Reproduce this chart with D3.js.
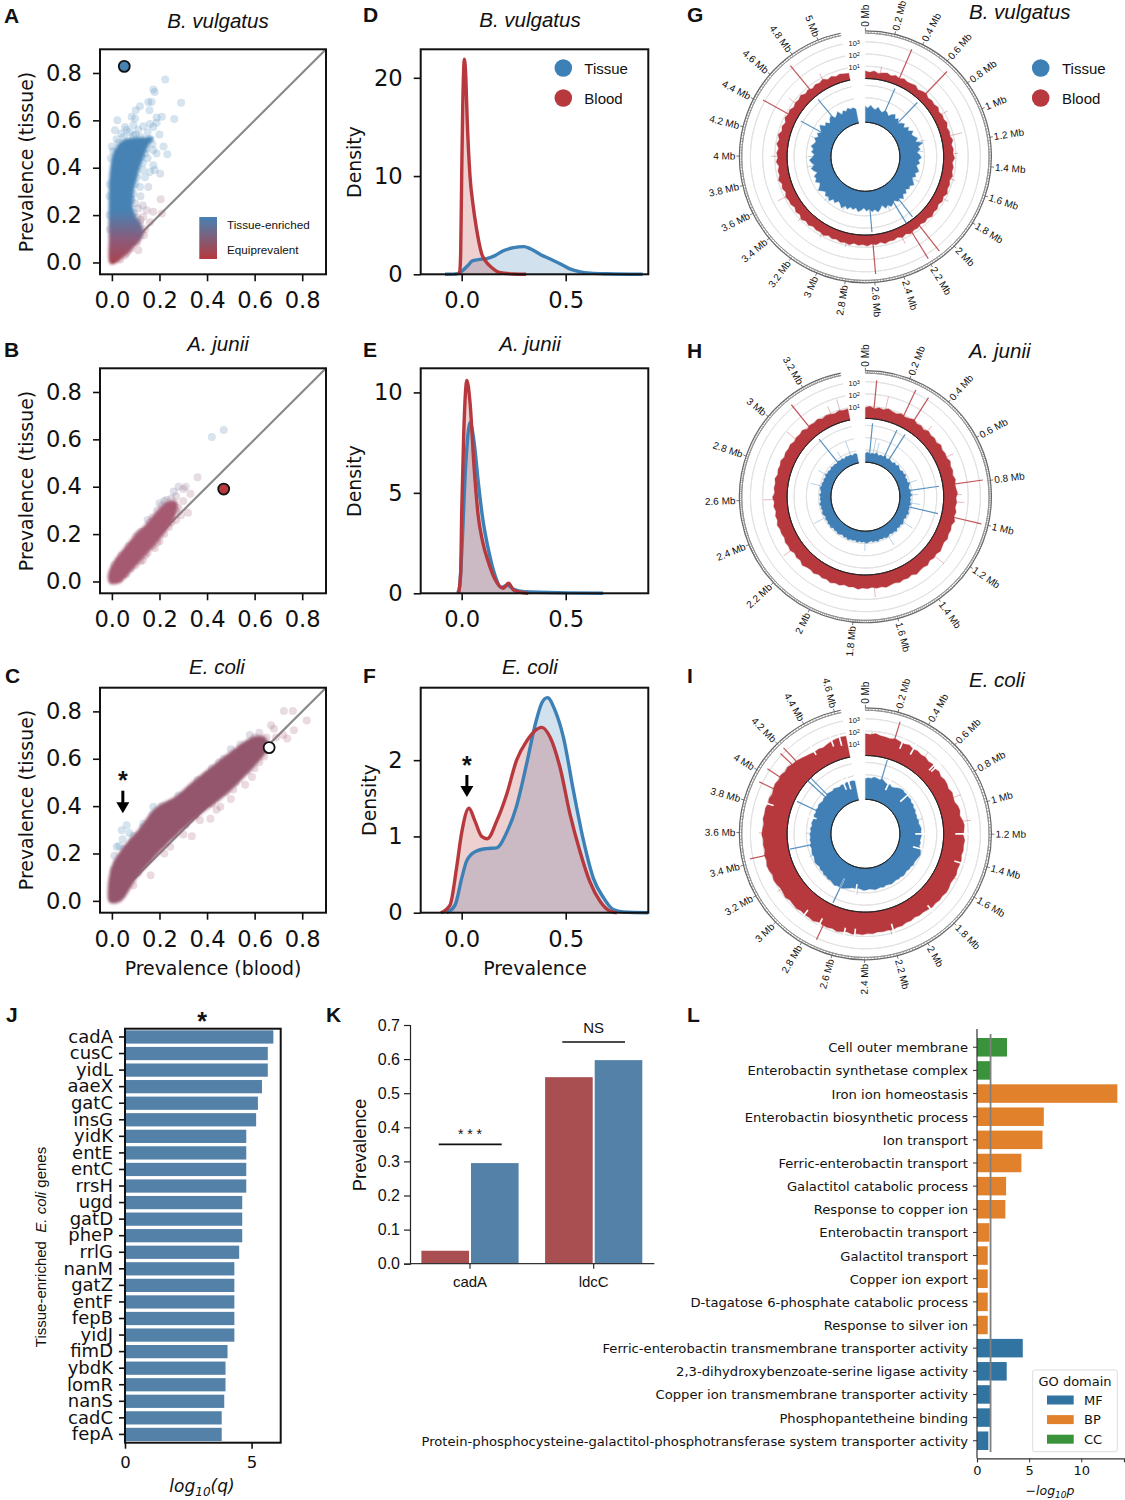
<!DOCTYPE html>
<html>
<head>
<meta charset="utf-8">
<script src="https://cdn.jsdelivr.net/npm/d3@7"></script>
<style>
body { margin: 0; background: #fff; }
svg { display: block; }
text { fill: #111; }
</style>
</head>
<body>
<svg id="fig" width="1125" height="1500"></svg>
<script>
// scatter panels: dense cores are read as outlines, the loose points as [blood, tissue]
const coreA = [[-.006,-.002],[-.01,.1],[-.01,.26],[-.006,.38],[.012,.47],[.05,.515],[.13,.525],[.17,.525],[.148,.49],[.115,.4],[.09,.305],[.085,.235],[.1,.19],[.125,.15],[.125,.108],[.09,.066],[.045,.024],[.012,-.002]];
const pointsA = [[.224,.772],[.174,.73],[.18,.72],[.291,.674],[.153,.678],[.167,.678],[.158,.643],[.118,.66],[.1,.643],[.083,.615],[.097,.608],[.023,.6],[.013,.558],[.055,.572],[.062,.56],[.262,.606],[.21,.615],[.188,.612],[.188,.59],[.174,.572],[.132,.575],[.09,.58],[.16,.585],[.11,.56],[0,.49],[.217,.49],[.233,.457],[.174,.474],[.188,.46],[.203,.375],[.16,.382],[.174,.41],[.139,.36],[.153,.319],[.118,.319],[.205,.267],[.174,.214],[.146,.22],[.111,.228],[.132,.193],[.21,.207],[.111,.052],[.135,.115],[.104,.172],[.097,.25],[.083,.263],[.12,.28],[.13,.42],[.15,.44],[.17,.5],[.14,.46],[.02,.52],[.04,.545],[.075,.55],[.1,.54],[.2,.54],[.15,.55],[.18,.39],[.13,.24],[.16,.17],[.12,.18],[.14,.14],[.1,.12],[.09,.09],[.07,.05],[.055,.03],
    [-.008,.33],[-.01,.28],[-.01,.2],[-.008,.14],[-.004,.44],[.005,.47],[.028,.505],[.05,.53],[.09,.535],[.12,.53],[.16,.52],[.125,.45],[.13,.39],[.105,.36],[.098,.33],[.09,.29],[.08,.27],[.092,.21],[.105,.19],[.118,.165],[.125,.13],[.105,.085],[.08,.06],[.062,.04],[.035,.012],[.145,.48],[.115,.44],[.105,.48]];
const highlightA = [.052,.828];

const coreB = [[-.008,-.005],[-.012,.035],[.012,.085],[.05,.135],[.095,.19],[.145,.24],[.195,.3],[.235,.335],[.27,.335],[.265,.28],[.215,.2],[.165,.14],[.115,.085],[.07,.035],[.03,-.004]];
const pointsB = [[.42,.61],[.47,.64],[.31,.4],[.28,.4],[.3,.39],[.25,.3],[.28,.31],[.32,.29],[.3,.34],[.27,.36],[.22,.34],[.2,.33],[.17,.27],[.13,.21],[.09,.16],[.06,.12],[.03,.09],[.05,.03],[.1,.07],[.15,.12],[.2,.17],[.24,.23],[.27,.26],[.26,.38],[.36,.44],[.33,.37],[.29,.28],
    [.01,.07],[.04,.11],[.07,.15],[.1,.19],[.12,.21],[.16,.25],[.19,.3],[.23,.345],[.25,.35],[.06,.03],[.08,.055],[.12,.085],[.14,.11],[.17,.15],[.19,.165],[.22,.2],[.25,.25],[.03,.01],[.11,.2],[.15,.26],[.21,.32],[.18,.14],[.13,.09],[.27,.3]];
const highlightB = [.47,.39];

const coreC = [[-.008,-.004],[-.014,.05],[.004,.15],[.05,.225],[.115,.3],[.185,.39],[.27,.44],[.34,.5],[.44,.58],[.51,.635],[.595,.69],[.64,.69],[.655,.65],[.615,.59],[.545,.515],[.465,.44],[.38,.375],[.28,.29],[.195,.205],[.1,.095],[.035,0]];
const pointsC = [[.723,.802],[.761,.802],[.819,.762],[.765,.72],[.737,.685],[.681,.727],[.669,.741],[.72,.7],[.69,.69],[.174,.397],[.132,.326],[.062,.319],[.041,.298],[.073,.287],[.02,.228],[.03,.232],[.01,.19],[.02,.16],[.006,.13],[.045,.26],[.085,.25],[.163,.108],[.09,.066],[.336,.273],[.245,.228],[.414,.347],[.456,.397],[.589,.523],[.56,.49],[.5,.43],[.44,.385],[.37,.34],[.3,.28],[.22,.2],[.25,.41],[.33,.47],[.42,.56],[.5,.64],[.58,.7],[.62,.71],[.54,.66],[.4,.53],[.3,.44],[.24,.38],
    [.05,.22],[.09,.275],[.13,.31],[.17,.365],[.21,.4],[.28,.445],[.36,.51],[.45,.585],[.47,.6],[.55,.645],[.6,.69],[.65,.69],[.66,.66],[.64,.61],[.62,.585],[.57,.55],[.52,.5],[.48,.46],[.42,.41],[.35,.36],[.31,.32],[.26,.28],[.21,.24],[.15,.175],[.11,.12],[.06,.07],[.04,.03],[.6,.56],[.51,.47]];
const highlightC = [.661,.647];

// density curves, [prevalence, density]
const densD_tissue = [[-.08,0],[-.04,.02],[-.02,.08],[0,.3],[.03,.9],[.05,1.35],[.08,1.5],[.12,1.6],[.16,1.9],[.2,2.4],[.25,2.72],[.3,2.82],[.33,2.6],[.38,2.0],[.42,1.6],[.48,1.0],[.52,.55],[.57,.25],[.62,.12],[.7,.05],[.87,0]];
const densD_blood = [[-.01,0],[-.005,2],[0,10],[.005,17],[.013,21.9],[.02,20],[.026,16],[.04,10],[.055,7],[.07,4.8],[.096,2.1],[.12,1.2],[.144,.7],[.18,.2],[.25,.03],[.31,0]];
const densE_tissue = [[-.02,0],[-.01,.3],[0,2],[.02,6.5],[.04,8.5],[.06,7.5],[.08,5.5],[.1,3.8],[.13,2.1],[.16,.9],[.19,.3],[.22,.4],[.25,.2],[.3,.08],[.5,.02],[.68,0]];
const densE_blood = [[-.015,0],[-.005,1],[0,4],[.01,8],[.025,10.6],[.04,9.5],[.06,6.2],[.08,3.8],[.1,2.6],[.13,1.5],[.16,.7],[.2,.25],[.225,.5],[.25,.15],[.3,.02],[.32,0]];
const densF_tissue = [[-.072,0],[-.032,.1],[0,.45],[.024,.68],[.064,.8],[.12,.84],[.168,.85],[.216,1.05],[.264,1.4],[.312,1.95],[.352,2.45],[.385,2.75],[.412,2.82],[.449,2.65],[.489,2.3],[.537,1.6],[.585,.95],[.633,.45],[.681,.2],[.729,.04],[.777,.01],[.897,0]];
const densF_blood = [[-.1,0],[-.056,.1],[-.024,.6],[0,1.05],[.035,1.37],[.064,1.2],[.096,1.0],[.123,.97],[.168,1.2],[.216,1.55],[.264,2.0],[.312,2.25],[.385,2.43],[.425,2.3],[.473,1.9],[.52,1.3],[.569,.8],[.617,.4],[.665,.15],[.713,.02],[.745,0]];

// genome tracks: log10 coverage read around each ring, spikes as [Mb, log10], dips as [Mb, log10]
const genomeG = 5.16, genomeH = 3.38, genomeI = 4.64;
const bloodG = [.62,.52,.66,.5,.6,.68,.54,.7,.58,.72,.6,.66,.74,.56,.7,.78,.62,.72,.66,.8,.64,.76,.7,.84,.68,.78,.72,.88,.7,.82,.76,.9,.72,.84,.78,.9,.74,.86,.8,.94,.76,.88,.72,.86,.78,.92,.74,.84,.7,.82,.78,.9,.72,.86,.68,.8,.76,.88,.7,.84,.74,.9,.78,.86,.72,.92,.8,.88,.74,.84,.7,.9,.78,.82,.72,.88,.76,.94,.74,.86,.7,.84,.8,.9,.72,.88,.76,.96,.78,.84,.7,.9,.76,.86,.72,.92,.78,.96,.74,.86,.7,.92,.8,.88,.72,.84,.78,.9,.7,.82,.66,.78,.7,.84,.62,.74,.58,.68,.6,.56];
const tissueG = [1.3,1.15,1.4,1.2,1.1,1.35,1.15,1.05,1.3,1.2,1.0,1.25,1.4,1.1,1.3,.95,1.2,1.35,1.1,1.45,1.25,1.6,1.35,1.5,1.7,1.45,2.0,1.55,1.7,1.4,1.6,1.75,1.5,1.65,1.4,1.55,1.7,1.45,1.6,1.35,1.55,1.75,1.5,1.6,1.4,1.65,1.5,1.8,1.55,1.7,1.45,1.6,1.75,1.5,1.7,1.35,1.6,1.8,1.55,1.7,1.45,1.6,1.35,1.55,1.7,1.4,1.6,1.45,1.7,1.5,1.8,1.55,1.4,1.7,1.5,1.85,1.6,1.75,1.5,1.65,1.9,1.6,1.45,1.75,1.55,1.65,1.3,1.55,1.7,1.4,1.6,1.75,1.5,1.35,1.6,1.45,1.7,1.5,1.4,1.6,1.35,1.55,1.25,1.5,1.7,1.3,1.45,1.15,1.4,1.55,1.2,1.3,1.5,1.1,1.35,1.2,1.4,1.25,1.3,1.15];
const spikesBloodG = [[.346,3.17],[.647,3.25],[2.10,3.4],[2.195,3.38],[2.59,3.22],[4.425,3.17],[4.743,3.25]];
const spikesTissueG = [[.346,3.25],[.647,3.3],[2.10,3.4],[2.195,3.55],[2.59,3.35],[4.425,3.2],[4.743,3.25]];
const fringeBloodG = [[.9,1.3],[1.125,1.75],[1.3,1.2],[1.75,1.3],[2.3,1.4],[3.6,1.6],[4.0,1.3],[4.55,1.5],[4.9,1.35],[3.1,1.2],[1.55,1.2],[.15,1.1],[3.35,1.2],[2.85,1.15]];
const fringeTissueG = [[1.1,2.2],[1.25,1.9],[1.7,2.0],[2.3,2.0],[3.0,1.9],[3.3,2.05],[4.0,1.9],[3.85,2.0],[4.3,1.9]];

const bloodH = [.9,1.0,.82,.96,.86,1.02,.9,.84,1.0,.88,.94,1.06,.9,.98,.86,1.04,.92,1.0,.9,1.08,.94,1.02,.96,1.12,.98,1.06,.94,1.1,.98,1.04,1.14,1.0,1.08,.98,1.12,1.02,1.18,1.0,1.1,1.04,1.14,1.02,1.08,1.18,1.04,1.12,1.0,1.16,1.06,1.1,1.2,1.02,1.12,1.06,1.16,1.04,1.1,1.2,1.08,1.14,1.02,1.12,1.06,1.18,1.04,1.1,1.0,1.14,1.08,1.2,1.06,1.12,1.02,1.16,1.06,1.1,1.22,1.04,1.12,1.0,1.16,1.08,1.14,1.02,1.1,1.06,1.18,1.04,1.12,1.0,1.14,1.06,1.2,1.02,1.1,1.04,1.14,.98,1.08,1.02,1.12,.96,1.06,1.0,1.08,.94,1.04,.98,1.1,.9,1.0,.94,1.04,.88,.98,.92,.84,.96,.88,.92];
const tissueH = [.72,.84,.68,.8,.74,.88,.7,.82,.76,.9,.72,.84,.78,.7,.86,.76,.92,.8,.74,.88,.82,.94,.78,.86,.8,.96,.84,.78,.92,.86,.98,.82,.9,.84,.96,.8,.9,.86,.98,.84,.92,.8,.88,.96,.84,.92,.82,.98,.86,.92,.8,.9,.96,.84,.9,.82,.98,.86,.94,.82,.9,.98,.86,.92,.84,.96,.82,.9,.86,.98,.84,.92,.8,.9,.96,.86,.92,.82,.98,.88,.94,.84,.92,.8,.9,.96,.84,.92,.86,.98,.82,.9,.84,.94,.8,.88,.96,.84,.9,.8,.88,.78,.92,.82,.86,.76,.88,.8,.84,.74,.86,.78,.82,.72,.84,.76,.8,.7,.82,.74];
const spikesBloodH = [[.054,3.15],[.245,3.25],[.315,3.2],[.794,3.3],[1.0,3.33],[3.113,3.25]];
const spikesTissueH = [[.054,3.2],[.245,3.2],[.315,3.2],[.794,3.25],[1.0,3.25],[3.113,3.2]];
const fringeBloodH = [[.126,2.0],[.42,1.55],[.62,1.6],[.86,1.5],[.905,1.7],[1.265,2.05],[1.69,1.85],[2.27,1.85],[2.6,1.95],[3.0,1.9],[3.33,1.9],[3.27,1.6]];
const fringeTissueH = [[.1,2.0],[.14,1.7],[.7,1.6],[.85,1.5],[.95,1.7],[1.2,1.8],[1.45,1.75],[1.75,1.6],[2.35,1.9],[2.75,1.8],[2.9,1.6],[3.3,2.0],[3.18,1.5]];

const bloodI = [1.78,1.72,1.84,1.7,1.68,1.62,1.74,1.66,1.6,1.7,1.56,1.6,1.5,1.56,1.44,1.52,1.38,1.48,1.34,1.44,1.42,1.32,1.46,1.38,1.34,1.5,1.56,1.46,1.62,1.72,1.66,1.6,1.74,1.68,1.72,1.64,1.74,1.7,1.66,1.76,1.7,1.64,1.74,1.78,1.68,1.74,1.66,1.72,1.62,1.56,1.6,1.52,1.62,1.58,1.7,1.66,1.76,1.7,1.74,1.68,1.8,1.76,1.86,1.8,1.88,1.76,1.84,1.92,1.8,1.88,1.84,1.78,1.92,1.84,1.88,1.8,1.92,1.86,1.82,1.96,1.88,1.84,1.94,2.0,1.9,2.02,2.08,1.96,2.04,1.92,2.0,1.96,2.08,2.02,1.94,2.06,2.0,2.04,1.92,1.98,1.88,1.96,2.04,1.94,2.02,1.9,1.98,1.86,1.82,1.7,1.6,1.54,1.46,1.52,1.44,1.56,1.66,1.72,1.76,1.74];
const tissueI = [1.68,1.76,1.72,1.86,1.8,1.74,1.84,1.7,1.6,1.68,1.56,1.62,1.76,1.84,1.88,1.8,1.86,1.78,1.82,1.7,1.76,1.64,1.7,1.58,1.62,1.56,1.66,1.6,1.7,1.76,1.7,1.78,1.72,1.66,1.74,1.68,1.84,1.92,1.98,1.9,1.84,1.8,1.86,1.74,1.78,1.7,1.76,1.8,1.72,1.76,1.7,1.74,1.8,1.74,1.7,1.78,1.72,1.76,1.82,1.74,1.7,1.76,1.8,1.72,1.66,1.74,1.7,1.8,1.88,1.98,2.06,1.98,2.1,2.0,1.92,1.98,1.88,1.94,1.82,1.88,1.78,1.86,1.92,1.84,1.76,1.84,1.78,1.72,1.8,1.68,1.74,1.66,1.72,1.62,1.7,1.58,1.66,1.6,1.56,1.64,1.58,1.66,1.6,1.68,1.62,1.56,1.66,1.6,1.7,1.64,1.58,1.68,1.6,1.54,1.62,1.56,1.66,1.6,1.64,1.58];
const spikesBloodI = [[.229,3.2],[2.725,3.15],[3.43,3.25],[3.94,3.25],[4.04,3.22],[4.17,3.15],[4.21,3.3]];
const spikesTissueI = [[.22,3.45],[2.73,3.4],[3.44,3.45],[3.93,3.35],[4.16,3.6],[4.2,3.5]];
const fringeBloodI = [[.5,2.0],[1.1,2.3],[.9,2.0],[1.55,1.95],[2.2,2.1],[3.15,2.2],[3.6,2.3],[.05,1.95]];
const fringeTissueI = [[.6,1.9],[1.0,2.0],[2.5,2.2],[3.3,2.1],[3.6,2.0]];
const dipsBloodI = [[.293,1.1],[.393,1.05],[.599,.95],[.62,1.0],[1.198,.95],[1.424,1.2],[1.85,1.35],[2.18,1.25],[2.475,1.4],[2.555,1.45],[2.754,1.35],[2.888,1.4],[3.82,1.45],[4.365,1.2],[4.524,1.2],[4.59,1.05]];
const dipsTissueI = [[.33,1.1],[.63,1.05],[1.198,1.25],[1.4,1.2],[2.73,1.2],[2.52,1.35],[3.82,1.35],[4.48,1.1],[4.55,1.0]];

// bar panels
const genes = ["cadA","cusC","yidL","aaeX","gatC","insG","yidK","entE","entC","rrsH","ugd","gatD","pheP","rrlG","nanM","gatZ","entF","fepB","yidJ","fimD","ybdK","lomR","nanS","cadC","fepA"];
const geneQ = [5.86,5.64,5.64,5.41,5.25,5.18,4.79,4.79,4.79,4.79,4.63,4.63,4.63,4.51,4.32,4.32,4.32,4.32,4.32,4.05,3.97,3.97,3.92,3.82,3.82];
const lysGenes = ["cadA","ldcC"];
const lysBlood = [.038,.547];
const lysTissue = [.295,.597];
const goTerms = ["Cell outer membrane","Enterobactin synthetase complex","Iron ion homeostasis","Enterobactin biosynthetic process","Ion transport","Ferric-enterobactin transport","Galactitol catabolic process","Response to copper ion","Enterobactin transport","Galactitol transport","Copper ion export","D-tagatose 6-phosphate catabolic process","Response to silver ion","Ferric-enterobactin transmembrane transporter activity","2,3-dihydroxybenzoate-serine ligase activity","Copper ion transmembrane transporter activity","Phosphopantetheine binding","Protein-phosphocysteine-galactitol-phosphotransferase system transporter activity"];
const goValues = [2.88,1.31,13.46,6.41,6.28,4.26,2.79,2.72,1.19,1.03,1.03,1.03,1.03,4.39,2.85,1.25,1.25,1.09];
const goDomains = ["CC","CC","BP","BP","BP","BP","BP","BP","BP","BP","BP","BP","BP","MF","MF","MF","MF","MF"];
const goLegend = ["MF","BP","CC"];

const BLUE = "#3d80b6", RED = "#b7393e", SANS = "'Liberation Sans', Arial, sans-serif", DEJAVU = "'DejaVu Sans', sans-serif";
const svg = d3.select("#fig");
const defs = svg.append("defs");
defs.append("filter").attr("id", "soft").append("feGaussianBlur").attr("stdDeviation", 1.3);

function panelLetter(t, x, y) {
    svg.append("text").attr("x", x).attr("y", y).text(t)
        .style("font", "bold 21px " + SANS);
}

function title(t, x, y, anchor) {
    svg.append("text").attr("x", x).attr("y", y).attr("text-anchor", anchor || "middle").text(t)
        .style("font", "italic 20.5px " + SANS);
}

function styleAxis(g, size) {
    g.selectAll("text").style("font", size + "px " + DEJAVU).attr("fill", "#111");
    g.selectAll("line").attr("stroke", "#111").attr("stroke-width", 1.6);
    g.select(".domain").attr("stroke", "#111").attr("stroke-width", 1.6);
}

function yLabel(t, x, y, size, family) {
    svg.append("text").attr("transform", `translate(${x},${y}) rotate(-90)`).attr("text-anchor", "middle").text(t)
        .style("font", size + "px " + (family || DEJAVU));
}

function box(x0, y0, w, h) {
    svg.append("rect").attr("x", x0).attr("y", y0).attr("width", w).attr("height", h)
        .attr("fill", "none").attr("stroke", "#111").attr("stroke-width", 2);
}

const pointColor = d3.scaleLinear().domain([.03, .2]).range(["#a4566c", "#4682b4"]).clamp(true);

function scatterPanel(y0, core, points, highlight, highlightFill, coreFill) {
    const x0 = 100, w = 226, h = 225;
    const x = d3.scaleLinear().domain([-.05, .9]).range([x0, x0 + w]);
    const y = d3.scaleLinear().domain([-.05, .9]).range([y0 + h, y0]);
    svg.append("line").attr("x1", x(0)).attr("y1", y(0)).attr("x2", x(.9)).attr("y2", y(.9))
        .attr("stroke", "#8a8a8a").attr("stroke-width", 2.2);
    svg.append("g").selectAll("circle").data(points).join("circle")
        .attr("cx", d => x(d[0])).attr("cy", d => y(d[1])).attr("r", 4)
        .attr("fill", d => pointColor(d[1] - d[0])).attr("fill-opacity", .22);
    const outline = d3.line().x(d => x(d[0])).y(d => y(d[1])).curve(d3.curveCatmullRomClosed.alpha(.5));
    svg.append("path").attr("d", outline(core)).attr("fill", coreFill)
        .attr("stroke", coreFill).attr("stroke-width", 3).attr("stroke-opacity", .5)
        .attr("stroke-linejoin", "round").attr("filter", "url(#soft)");
    svg.append("circle").attr("cx", x(highlight[0])).attr("cy", y(highlight[1])).attr("r", 5.5)
        .attr("fill", highlightFill).attr("stroke", "#111").attr("stroke-width", 1.8);
    const ax = svg.append("g").attr("transform", `translate(0,${y0 + h})`)
        .call(d3.axisBottom(x).tickValues([0, .2, .4, .6, .8]).tickFormat(d3.format(".1f")).tickSize(7).tickPadding(11));
    ax.select(".domain").remove();
    styleAxis(ax, 22.6);
    const ay = svg.append("g").attr("transform", `translate(${x0},0)`)
        .call(d3.axisLeft(y).tickValues([0, .2, .4, .6, .8]).tickFormat(d3.format(".1f")).tickSize(7).tickPadding(11));
    ay.select(".domain").remove();
    styleAxis(ay, 22.6);
    box(x0, y0, w, h);
    return { x, y };
}

function densityPanel(y0, yMax, yTicks, tissue, blood) {
    const x0 = 420.7, w = 227.6, h = 225;
    const x = d3.scaleLinear().domain([-.197, .897]).range([x0, x0 + w]);
    const y = d3.scaleLinear().domain([0, yMax]).range([y0 + h, y0]);
    const area = d3.area().x(d => x(d[0])).y0(y(0)).y1(d => y(d[1])).curve(d3.curveMonotoneX);
    const line = d3.line().x(d => x(d[0])).y(d => y(d[1])).curve(d3.curveMonotoneX);
    [[tissue, BLUE], [blood, RED]].forEach(s => {
        svg.append("path").attr("d", area(s[0])).attr("fill", s[1]).attr("fill-opacity", .24);
    });
    [[tissue, BLUE], [blood, RED]].forEach(s => {
        svg.append("path").attr("d", line(s[0])).attr("fill", "none").attr("stroke", s[1]).attr("stroke-width", 3.4);
    });
    const ax = svg.append("g").attr("transform", `translate(0,${y0 + h})`)
        .call(d3.axisBottom(x).tickValues([0, .5]).tickFormat(d3.format(".1f")).tickSize(7).tickPadding(11));
    ax.select(".domain").remove();
    styleAxis(ax, 22.6);
    const ay = svg.append("g").attr("transform", `translate(${x0},0)`)
        .call(d3.axisLeft(y).tickValues(yTicks).tickFormat(d3.format("d")).tickSize(7).tickPadding(11));
    ay.select(".domain").remove();
    styleAxis(ay, 22.6);
    box(x0, y0, w, h);
    return { x, y };
}

function seriesLegend(cx, tx) {
    [["Tissue", BLUE, 68], ["Blood", RED, 98]].forEach(d => {
        svg.append("circle").attr("cx", cx).attr("cy", d[2]).attr("r", 8.8).attr("fill", d[1]);
        svg.append("text").attr("x", tx).attr("y", d[2] + 5.5).text(d[0]).style("font", "15px " + SANS);
    });
}

function arrowMark(x, yTop, yTip, starY) {
    svg.append("line").attr("x1", x).attr("y1", yTop).attr("x2", x).attr("y2", yTip - 8)
        .attr("stroke", "#000").attr("stroke-width", 3);
    svg.append("path").attr("fill", "#000")
        .attr("d", d3.line()([[x - 6.5, yTip - 11], [x + 6.5, yTip - 11], [x, yTip]]));
    svg.append("text").attr("x", x).attr("y", starY).attr("text-anchor", "middle").text("*")
        .style("font", "bold 25px " + SANS);
}

// one circular genome panel: outer scale ring, blood track, tissue track
function genomePanel(cx, cy, length, step, minorStep, blood, tissue, spikesBlood, spikesTissue, fringeBlood, fringeTissue, dipsBlood, dipsTissue) {
    const sweep = 348.7 * Math.PI / 180;
    const g = svg.append("g").attr("transform", `translate(${cx},${cy})`);
    const angle = d3.scaleLinear().domain([0, length]).range([0, sweep]);
    const rBlood = d3.scaleLinear().domain([0, 3]).range([78.3, 115]);
    const rTissue = d3.scaleLinear().domain([0, 3]).range([34.5, 71.4]);
    const arc = d3.arc().startAngle(0).endAngle(sweep);

    [rBlood, rTissue].forEach(r => {
        [1, 2, 3].forEach(k => {
            g.append("path").attr("d", arc({ innerRadius: r(k), outerRadius: r(k) }))
                .attr("fill", "none").attr("stroke", "#e2e2e2").attr("stroke-width", 1);
        });
    });

    function track(values, r, color, fringe, spikes, dips) {
        const pos = d3.scaleLinear().domain([0, values.length - 1]).range([0, length]);
        const area = d3.areaRadial()
            .angle((d, i) => angle(pos(i)))
            .innerRadius(r(0))
            .outerRadius(d => r(d));
        g.append("path").attr("d", area(values)).attr("fill", color).attr("stroke", color).attr("stroke-opacity", .3).attr("stroke-width", 1.2);
        const spoke = (d, width, stroke, opacity) => {
            const p0 = d3.pointRadial(angle(d[0]), r(0));
            const p1 = d3.pointRadial(angle(d[0]), r(d[1]));
            g.append("line").attr("x1", p0[0]).attr("y1", p0[1]).attr("x2", p1[0]).attr("y2", p1[1])
                .attr("stroke", stroke).attr("stroke-width", width).attr("stroke-opacity", opacity);
        };
        (dips || []).forEach(d => {
            const p0 = d3.pointRadial(angle(d[0]), r(d[1]));
            const p1 = d3.pointRadial(angle(d[0]), r(2.3));
            g.append("line").attr("x1", p0[0]).attr("y1", p0[1]).attr("x2", p1[0]).attr("y2", p1[1])
                .attr("stroke", "#fff").attr("stroke-width", 1.6);
        });
        fringe.forEach(d => spoke(d, 1, color, .35));
        spikes.forEach(d => spoke(d, 1.2, color, .85));
        g.append("path").attr("d", arc({ innerRadius: r(0), outerRadius: r(0) }))
            .attr("fill", "none").attr("stroke", "#222").attr("stroke-width", .9);
    }
    track(blood, rBlood, RED, fringeBlood, spikesBlood, dipsBlood);
    track(tissue, rTissue, "#4180b6", fringeTissue, spikesTissue, dipsTissue);

    // decade labels sit in the gap
    [[1, "1"], [2, "2"], [3, "3"]].forEach(d => {
        const t = g.append("text").attr("x", -5.5).attr("y", -rBlood(d[0]) + 4).attr("text-anchor", "end")
            .style("font", "7.5px " + SANS).attr("fill", "#444");
        t.append("tspan").text("10");
        t.append("tspan").attr("dy", -2).style("font-size", "5.5px").text(d[1]);
    });

    // outer Mb ring
    [123.6, 126].forEach((r, i) => {
        g.append("path").attr("d", arc({ innerRadius: r, outerRadius: r }))
            .attr("fill", "none").attr("stroke", i ? "#666" : "#999").attr("stroke-width", i ? 1.2 : 1);
    });
    d3.range(0, length, minorStep).forEach(v => {
        const p0 = d3.pointRadial(angle(v), 123.6), p1 = d3.pointRadial(angle(v), 126);
        g.append("line").attr("x1", p0[0]).attr("y1", p0[1]).attr("x2", p1[0]).attr("y2", p1[1])
            .attr("stroke", "#777").attr("stroke-width", .6);
    });
    const labels = d3.range(0, length, step);
    labels.forEach(v => {
        const a = angle(v), deg = a * 180 / Math.PI;
        const p0 = d3.pointRadial(a, 126), p1 = d3.pointRadial(a, 129);
        g.append("line").attr("x1", p0[0]).attr("y1", p0[1]).attr("x2", p1[0]).attr("y2", p1[1])
            .attr("stroke", "#555").attr("stroke-width", .8);
        const p = d3.pointRadial(a, 130);
        const right = deg <= 180;
        const label = d3.format(".1~f")(v) + " Mb";
        g.append("text").attr("transform", `translate(${p[0]},${p[1]}) rotate(${right ? deg - 90 : deg + 90})`)
            .attr("text-anchor", right ? "start" : "end").attr("dy", "0.34em").text(label)
            .style("font", "10px " + SANS);
    });
}

// scatter panels A to C
const gradA = defs.append("linearGradient").attr("id", "coreA").attr("gradientUnits", "objectBoundingBox").attr("x1", 0).attr("y1", 1).attr("x2", 0).attr("y2", 0);
gradA.append("stop").attr("offset", 0).attr("stop-color", "#a8444f");
gradA.append("stop").attr("offset", .18).attr("stop-color", "#8f5a78");
gradA.append("stop").attr("offset", .42).attr("stop-color", "#4682b4");
gradA.append("stop").attr("offset", 1).attr("stop-color", "#4682b4");

scatterPanel(49.3, coreA, pointsA, highlightA, "#4682b4", "url(#coreA)");
scatterPanel(368.3, coreB, pointsB, highlightB, RED, "#a55a72");
const c = scatterPanel(687.7, coreC, pointsC, highlightC, "#fff", "#94566d");
arrowMark(c.x(.046), 790.7, 813.3, 789);

const legGrad = defs.append("linearGradient").attr("id", "legA").attr("x1", 0).attr("y1", 0).attr("x2", 0).attr("y2", 1);
legGrad.append("stop").attr("offset", 0).attr("stop-color", "#4682b4");
legGrad.append("stop").attr("offset", 1).attr("stop-color", RED);
svg.append("rect").attr("x", 199.3).attr("y", 217).attr("width", 17.7).attr("height", 42).attr("fill", "url(#legA)");
svg.append("text").attr("x", 227).attr("y", 229).text("Tissue-enriched").style("font", "11.7px " + SANS);
svg.append("text").attr("x", 227).attr("y", 254).text("Equiprevalent").style("font", "11.7px " + SANS);

yLabel("Prevalence (tissue)", 33, 162, 18.9);
yLabel("Prevalence (tissue)", 33, 481, 18.9);
yLabel("Prevalence (tissue)", 33, 800, 18.9);
svg.append("text").attr("x", 213).attr("y", 975).attr("text-anchor", "middle").text("Prevalence (blood)").style("font", "18.9px " + DEJAVU);

// density panels D to F
densityPanel(49.3, 22.9, [0, 10, 20], densD_tissue, densD_blood);
densityPanel(368.3, 11.2, [0, 5, 10], densE_tissue, densE_blood);
const f = densityPanel(687.7, 2.95, [0, 1, 2], densF_tissue, densF_blood);
arrowMark(f.x(.025), 775, 797, 774);
seriesLegend(563.3, 584.3);
yLabel("Density", 361, 162, 18.9);
yLabel("Density", 361, 481, 18.9);
yLabel("Density", 376, 800, 18.9);
svg.append("text").attr("x", 535).attr("y", 975).attr("text-anchor", "middle").text("Prevalence").style("font", "18.9px " + DEJAVU);

// genome panels G to I
genomePanel(865.4, 156.8, genomeG, .2, .02, bloodG, tissueG, spikesBloodG, spikesTissueG, fringeBloodG, fringeTissueG);
genomePanel(865.4, 496.7, genomeH, .2, .01, bloodH, tissueH, spikesBloodH, spikesTissueH, fringeBloodH, fringeTissueH);
genomePanel(865.4, 833.8, genomeI, .2, .02, bloodI, tissueI, spikesBloodI, spikesTissueI, fringeBloodI, fringeTissueI, dipsBloodI, dipsTissueI);
seriesLegend(1040.7, 1062);

// J
{
    const x0 = 125, w = 155.7, y0 = 1028.7, h = 414;
    const x = d3.scaleLinear().domain([0, 6.15]).range([x0, x0 + w]);
    const y = d3.scaleBand().domain(genes).range([y0, y0 + h]).paddingInner(.2).paddingOuter(.1);
    svg.append("g").selectAll("rect").data(genes).join("rect")
        .attr("x", x(0)).attr("y", d => y(d)).attr("height", y.bandwidth())
        .attr("width", (d, i) => x(geneQ[i]) - x(0)).attr("fill", "#5481a8");
    const ax = svg.append("g").attr("transform", `translate(0,${y0 + h})`)
        .call(d3.axisBottom(x).tickValues([0, 5]).tickFormat(d3.format("d")).tickSize(6).tickPadding(8));
    ax.select(".domain").remove();
    styleAxis(ax, 16.5);
    const ay = svg.append("g").attr("transform", `translate(${x0},0)`)
        .call(d3.axisLeft(y).tickSize(6).tickPadding(6));
    ay.select(".domain").remove();
    styleAxis(ay, 18);
    box(x0, y0, w, h);
    const lab = svg.append("text").attr("transform", "translate(46,1247) rotate(-90)").attr("text-anchor", "middle")
        .style("font", "15px " + SANS);
    lab.append("tspan").text("Tissue-enriched \u00a0");
    lab.append("tspan").style("font-style", "italic").text("E. coli");
    lab.append("tspan").text(" genes");
    svg.append("text").attr("x", 202).attr("y", 1030).attr("text-anchor", "middle").text("*").style("font", "bold 25px " + SANS);
    const xl = svg.append("text").attr("x", 202).attr("y", 1492).attr("text-anchor", "middle").style("font", "italic 17px " + DEJAVU);
    xl.append("tspan").text("log");
    xl.append("tspan").attr("dy", 4).style("font-size", "12px").text("10");
    xl.append("tspan").attr("dy", -4).text("(q)");
}

// K
{
    const y = d3.scaleLinear().domain([0, .7]).range([1263.7, 1025]);
    const groupCentre = { cadA: 470, ldcC: 593.7 };
    const barW = 47.6;
    lysGenes.forEach((g, i) => {
        svg.append("rect").attr("x", groupCentre[g] - barW - 1).attr("y", y(lysBlood[i])).attr("width", barW)
            .attr("height", y(0) - y(lysBlood[i])).attr("fill", "#a94f52");
        svg.append("rect").attr("x", groupCentre[g] + 1).attr("y", y(lysTissue[i])).attr("width", barW)
            .attr("height", y(0) - y(lysTissue[i])).attr("fill", "#5481a8");
        svg.append("line").attr("x1", groupCentre[g]).attr("x2", groupCentre[g]).attr("y1", y(0)).attr("y2", y(0) + 5)
            .attr("stroke", "#222").attr("stroke-width", 1.2);
        svg.append("text").attr("x", groupCentre[g]).attr("y", 1287).attr("text-anchor", "middle").text(g)
            .style("font", "15px " + SANS);
    });
    svg.append("line").attr("x1", 410).attr("x2", 654.3).attr("y1", y(0)).attr("y2", y(0)).attr("stroke", "#333").attr("stroke-width", 1.2);
    const ay = svg.append("g").attr("transform", "translate(410,0)")
        .call(d3.axisLeft(y).tickValues(d3.range(0, .71, .1)).tickFormat(d3.format(".1f")).tickSize(6).tickPadding(4));
    ay.selectAll("text").style("font", "16px " + SANS);
    ay.selectAll("line").attr("stroke", "#222").attr("stroke-width", 1.2);
    ay.select(".domain").attr("stroke", "#222").attr("stroke-width", 1.2);
    yLabel("Prevalence", 366, 1145, 18.5, SANS);
    [[438.7, 501.7, .35], [562.3, 625, .65]].forEach(d => {
        svg.append("line").attr("x1", d[0]).attr("x2", d[1]).attr("y1", y(d[2])).attr("y2", y(d[2]))
            .attr("stroke", "#111").attr("stroke-width", 1.6);
    });
    svg.append("text").attr("x", 470).attr("y", 1139).attr("text-anchor", "middle").text("* * *").style("font", "14px " + SANS);
    svg.append("text").attr("x", 593.7).attr("y", 1033).attr("text-anchor", "middle").text("NS").style("font", "15px " + SANS);
}

// L
{
    const x = d3.scaleLinear().domain([0, 14.1]).range([977, 1124]);
    const y = d3.scaleBand().domain(goTerms).range([1035.7, 1452.3]).padding(.2).paddingOuter(.1);
    const colour = d3.scaleOrdinal().domain(goLegend).range(["#3274a1", "#e1812c", "#3a923a"]);
    svg.append("g").selectAll("rect").data(goTerms).join("rect")
        .attr("x", x(0)).attr("y", d => y(d)).attr("height", y.bandwidth())
        .attr("width", (d, i) => x(goValues[i]) - x(0)).attr("fill", (d, i) => colour(goDomains[i]));
    svg.append("line").attr("x1", x(1.3)).attr("x2", x(1.3)).attr("y1", 1034).attr("y2", 1452)
        .attr("stroke", "#808080").attr("stroke-width", 1.8);
    const ax = svg.append("g").attr("transform", "translate(0,1458.3)")
        .call(d3.axisBottom(x).tickValues([0, 5, 10]).tickSize(4).tickPadding(3));
    ax.selectAll("text").style("font", "13px " + DEJAVU);
    ax.selectAll("line").attr("stroke", "#333");
    ax.select(".domain").attr("stroke", "#333").attr("stroke-width", 1.2);
    const ay = svg.append("g").attr("transform", "translate(977,0)")
        .call(d3.axisLeft(y).tickSize(4).tickPadding(5));
    ay.select(".domain").remove();
    ay.selectAll("text").style("font", "13.15px " + DEJAVU).attr("dy", "0.38em");
    ay.selectAll("line").attr("stroke", "#333");
    svg.append("line").attr("x1", 977).attr("x2", 977).attr("y1", 1029).attr("y2", 1458.3).attr("stroke", "#333").attr("stroke-width", 1.2);
    const xl = svg.append("text").attr("x", 1050).attr("y", 1495).attr("text-anchor", "middle").style("font", "italic 12.5px " + DEJAVU);
    xl.append("tspan").text("\u2212log");
    xl.append("tspan").attr("dy", 3).style("font-size", "9px").text("10");
    xl.append("tspan").attr("dy", -3).text("p");

    svg.append("rect").attr("x", 1032.7).attr("y", 1370).attr("width", 84.6).attr("height", 81.7).attr("rx", 2)
        .attr("fill", "#fff").attr("fill-opacity", .85).attr("stroke", "#ddd");
    svg.append("text").attr("x", 1075).attr("y", 1385.5).attr("text-anchor", "middle").text("GO domain").style("font", "13px " + DEJAVU);
    goLegend.forEach((d, i) => {
        const ly = 1400 + i * 19.6;
        svg.append("rect").attr("x", 1047).attr("y", ly - 4.5).attr("width", 26.7).attr("height", 9).attr("fill", colour(d));
        svg.append("text").attr("x", 1084).attr("y", ly + 4.5).text(d).style("font", "13px " + DEJAVU);
    });
}

// titles and letters
title("B. vulgatus", 218, 28);
title("A. junii", 218, 351);
title("E. coli", 217, 674);
title("B. vulgatus", 530, 27);
title("A. junii", 530, 351);
title("E. coli", 530, 674);
title("B. vulgatus", 969, 19, "start");
title("A. junii", 969, 358, "start");
title("E. coli", 969, 687, "start");
[["A", 4, 23], ["B", 4, 357], ["C", 5, 683], ["D", 363, 22], ["E", 363, 357], ["F", 363, 683], ["G", 687, 22], ["H", 687, 358], ["I", 687, 683], ["J", 6, 1022], ["K", 326, 1022], ["L", 687, 1022]]
    .forEach(d => panelLetter(d[0], d[1], d[2]));
</script>
</body>
</html>
